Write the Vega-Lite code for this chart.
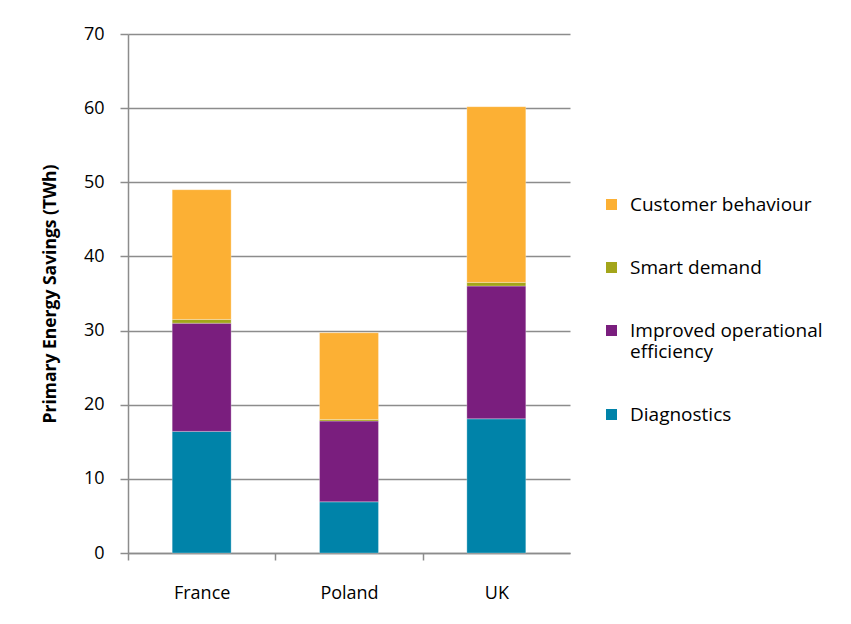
{
  "$schema": "https://vega.github.io/schema/vega-lite/v6.json",
  "width": 442,
  "height": 519,
  "autosize": "none",
  "padding": {"left": 128, "top": 34, "right": 281, "bottom": 71},
  "background": "white",
  "config": {
    "font": "Open Sans",
    "view": {"stroke": null},
    "axis": {"labelFont": "Open Sans", "titleFont": "Open Sans", "labelColor": "#000", "titleColor": "#000", "domainColor": "#8c8c8c", "tickColor": "#8c8c8c", "gridColor": "#8c8c8c", "domainWidth": 1.5, "tickWidth": 1.5, "gridWidth": 1.5}
  },
  "data": {"values": [
    {"country": "France", "category": "Diagnostics", "order": 1, "value": 16.4},
    {"country": "France", "category": "Improved operational efficiency", "order": 2, "value": 14.6},
    {"country": "France", "category": "Smart demand", "order": 3, "value": 0.5},
    {"country": "France", "category": "Customer behaviour", "order": 4, "value": 17.5},
    {"country": "Poland", "category": "Diagnostics", "order": 1, "value": 6.9},
    {"country": "Poland", "category": "Improved operational efficiency", "order": 2, "value": 10.9},
    {"country": "Poland", "category": "Smart demand", "order": 3, "value": 0.2},
    {"country": "Poland", "category": "Customer behaviour", "order": 4, "value": 11.7},
    {"country": "UK", "category": "Diagnostics", "order": 1, "value": 18.1},
    {"country": "UK", "category": "Improved operational efficiency", "order": 2, "value": 17.9},
    {"country": "UK", "category": "Smart demand", "order": 3, "value": 0.5},
    {"country": "UK", "category": "Customer behaviour", "order": 4, "value": 23.7}
  ]},
  "mark": {"type": "bar", "stroke": "#ffffff", "strokeOpacity": 0.35, "strokeWidth": 0.8},
  "encoding": {
    "x": {
      "field": "country", "type": "nominal", "sort": ["France", "Poland", "UK"],
      "scale": {"paddingInner": 0.6, "paddingOuter": 0.3},
      "axis": {"title": null, "labelAngle": 0, "labelFontSize": 18, "labelPadding": 24, "tickSize": 7, "tickOffset": -73.6, "labelOffset": 73.6, "grid": false}
    },
    "y": {
      "field": "value", "type": "quantitative", "aggregate": "sum", "stack": "zero",
      "scale": {"domain": [0, 70], "nice": false},
      "axis": {"title": "Primary Energy Savings  (TWh)", "titleFontSize": 17.5, "titleFontWeight": "bold", "titlePadding": 24, "labelFontSize": 18, "labelPadding": 16, "tickSize": 8, "values": [0, 10, 20, 30, 40, 50, 60, 70], "grid": true}
    },
    "color": {
      "field": "category", "type": "nominal",
      "scale": {"domain": ["Customer behaviour", "Smart demand", "Improved operational efficiency", "Diagnostics"], "range": ["#FCB034", "#A3A51A", "#7A1E7E", "#0083A9"]},
      "legend": {
        "title": null, "orient": "none", "legendX": 474, "legendY": 161,
        "symbolType": "square", "symbolSize": 121, "symbolStrokeWidth": 0,
        "labelFontSize": 19, "labelFont": "Open Sans", "labelColor": "#000", "labelOffset": 9,
        "labelLimit": 300, "rowPadding": 43, "labelBaseline": "middle",
        "labelExpr": "datum.label == 'Improved operational efficiency' ? ['Improved operational', 'efficiency'] : datum.label"
      }
    },
    "order": {"field": "order", "type": "quantitative"}
  }
}
